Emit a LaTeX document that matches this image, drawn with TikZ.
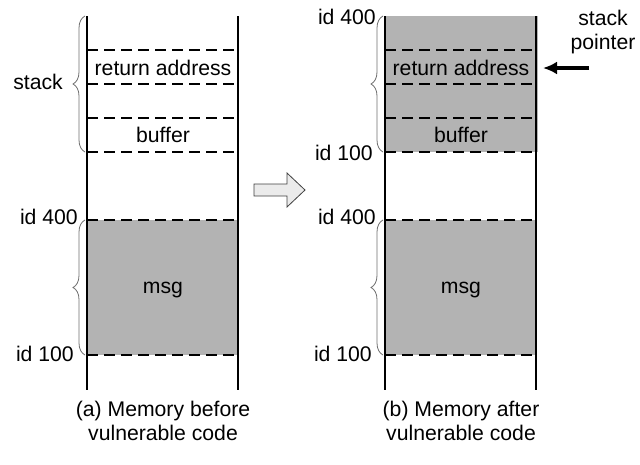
\documentclass[tikz,border=0pt]{standalone}
\usepackage{fontspec}
\setmainfont{Liberation Sans}
\usepackage{xcolor}
\usepackage{tikz}
\usetikzlibrary{arrows.meta,decorations.pathreplacing}
\definecolor{mem}{HTML}{B3B3B3}
\definecolor{brc}{HTML}{6E6E6E}
\definecolor{blk}{HTML}{EBEBEB}
\tikzset{wall/.style={draw=black,line width=1.7pt},cell/.style={draw=black,line width=1.1pt,dash pattern=on 11pt off 6pt},curly/.style={draw=brc,line width=.8pt,decorate,decoration={brace,amplitude=12pt}},spptr/.style={-{Latex[length=14pt,width=13pt]},line width=3.4pt},idlbl/.style={anchor=east}}

\begin{document}
\begin{tikzpicture}[x=1pt,y=-1pt,font=\fontsize{21.2}{23.5}\selectfont,inner sep=0pt]
 \useasboundingbox (0,0) rectangle (640,464);
 \fill[mem] (385,16) rectangle (538,152);
 \foreach \o/\c/\t in {0/a/before,298/b/after}{
  \fill[mem] (\o+87,220) rectangle (\o+238,355);
  \foreach \y in {50,84,118,152,220,355} \draw[cell] (\o+87,\y)--(\o+238,\y);
  \draw[wall] (\o+87,16)--(\o+87,390) (\o+238,16)--(\o+238,390);
  \node (ret\c) at (\o+163,68) {return address};
  \node (buf\c) at (\o+163,135) {buffer};
  \node (msg\c) at (\o+163,290) {msg};
  \draw[curly] (\o+85,355)--(\o+85,220);
  \node[idlbl] (top\c) at (\o+78,217) {id 400};
  \node[idlbl] (bot\c) at (\o+74,354) {id 100};
  \draw[curly] (\o+85,152)--(\o+85,16);
  \node[align=center] (cap\c) at (\o+163,421) {(\c) Memory \t\\vulnerable code};
 }
 \node[idlbl] (stk) at (63,82) {stack};
 \node[idlbl] (sptop) at (376,17) {id 400};
 \node[idlbl] (spbot) at (373,153) {id 100};
 % before -> after
 \draw[fill=blk,draw=black!75,line width=.8pt] (254,184)--(287,184)--(287,173)--(305,190)--(287,207)--(287,196)--(254,196)--cycle;
 \node[align=center] (sp) at (603,32) {stack\\pointer};
 \coordinate (spfrom) at (589,68);
 \coordinate (spto) at (543,68);
 \draw[spptr] (spfrom)--(spto);
\end{tikzpicture}
\end{document}
